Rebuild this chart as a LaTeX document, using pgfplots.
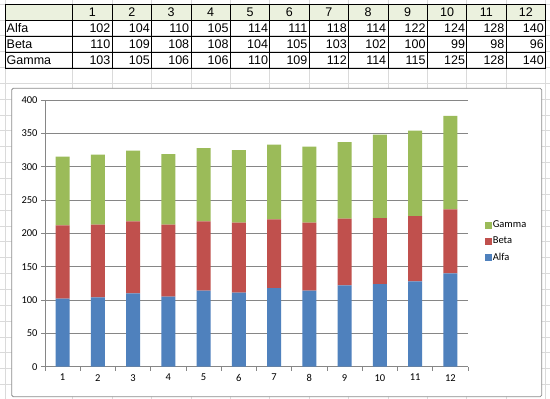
\documentclass[border=0pt]{standalone}
\usepackage{pgfplots}
\pgfplotsset{compat=1.18}
\usepackage{pgfplotstable}
\usepackage{fontspec}
\setmainfont{Liberation Sans}
\newfontfamily\calibri{Carlito}
\definecolor{alfa}{HTML}{4F81BD}
\definecolor{beta}{HTML}{C0504D}
\definecolor{gamma}{HTML}{9BBB59}
\definecolor{hdr}{HTML}{EBF1DE}
\definecolor{sheetgrid}{HTML}{DADADA}
\definecolor{chartgrid}{HTML}{868686}
\definecolor{boxline}{HTML}{8C8C8C}

\pgfplotstableread{
x alfa beta gamma
1 102 110 103
2 104 109 105
3 110 108 106
4 105 108 106
5 114 104 110
6 111 105 109
7 118 103 112
8 114 102 114
9 122 100 115
10 124 99 125
11 128 98 128
12 140 96 140
}\data

\begin{document}
\begin{tikzpicture}
\useasboundingbox (0,0) rectangle (550pt,399pt);
\begin{scope}[x=1pt,y=-1pt,yshift=399pt]
  % spreadsheet background grid
  \foreach \r in {0,...,25} \draw[sheetgrid,line width=0.6pt] (0,{4+15.85*\r}) -- (550,{4+15.85*\r});
  \foreach \c in {0,...,12} \draw[sheetgrid,line width=0.6pt] ({72.7+39.4*\c},0) -- ({72.7+39.4*\c},399);
  \draw[sheetgrid,line width=0.6pt] (5,0) -- (5,399);
  % table
  \fill[hdr] (5,4) rectangle (545.5,20);
  \foreach \yy in {4,20,36.5,52.5,68.3} \draw[black,line width=0.6pt] (5,\yy) -- (545.5,\yy);
  \draw[black,line width=0.6pt] (5,4) -- (5,68.3);
  \foreach \c in {0,...,12} \draw[black,line width=0.6pt] ({72.7+39.4*\c},4) -- ({72.7+39.4*\c},68.3);
  \begin{scope}[every node/.style={font=\fontsize{12.5}{14}\selectfont,inner sep=0pt}]
  \foreach \h [count=\i from 0] in {1,...,12}
    \node[anchor=base] at ({72.7+39.4*\i+19.7},16.5) {\h};
  \node[anchor=base west] at (6.5,33) {Alfa};
  \node[anchor=base west] at (6.5,49) {Beta};
  \node[anchor=base west] at (6.5,65) {Gamma};
  \foreach \v [count=\i from 1] in {102,104,110,105,114,111,118,114,122,124,128,140}
    \node[anchor=base east] at ({72.7+39.4*\i-1.5},33) {\v};
  \foreach \v [count=\i from 1] in {110,109,108,108,104,105,103,102,100,99,98,96}
    \node[anchor=base east] at ({72.7+39.4*\i-1.5},49) {\v};
  \foreach \v [count=\i from 1] in {103,105,106,106,110,109,112,114,115,125,128,140}
    \node[anchor=base east] at ({72.7+39.4*\i-1.5},65) {\v};
  \end{scope}
  % chart area
  \filldraw[fill=white,draw=boxline,line width=0.8pt,rounded corners=1.5pt] (11.7,88.3) rectangle (541.7,396.7);
\end{scope}

\begin{axis}[
  at={(45pt,32.3pt)}, anchor=south west,
  scale only axis, width=423pt, height=266.7pt,
  xmin=0.5, xmax=12.5, ymin=0, ymax=400,
  ybar stacked, bar width=14pt,
  xtick={1,...,12},
  minor xtick={0.5,1.5,...,12.5},
  major x tick style={draw=none},
  ytick={0,50,...,400},
  ymajorgrids, grid style={chartgrid,line width=0.6pt},
  axis x line*=bottom, axis y line*=left,
  axis line style={-,chartgrid,line width=0.6pt},
  tick style={chartgrid,line width=0.6pt},
  tick align=outside, major tick length=4pt, minor tick length=4pt,
  /pgf/number format/assume math mode=true,
  ticklabel style={font=\calibri\fontsize{10.5}{12}\selectfont, text=black},
  reverse legend,
  legend cell align=left,
  legend style={at={(1.04,0.469)}, anchor=west, draw=none, fill=none,
    font=\calibri\fontsize{10.5}{12}\selectfont, row sep=6pt, inner sep=0pt,
    nodes={inner sep=1pt}},
  legend image code/.code={\fill[#1,draw=none] (0pt,-3.4pt) rectangle (6.7pt,3.4pt);},
]
\addplot[fill=alfa,draw=none] table[x=x,y=alfa]{\data};
\addplot[fill=beta,draw=none] table[x=x,y=beta]{\data};
\addplot[fill=gamma,draw=none] table[x=x,y=gamma]{\data};
\legend{Alfa,Beta,Gamma}
\end{axis}
\end{tikzpicture}
\end{document}
